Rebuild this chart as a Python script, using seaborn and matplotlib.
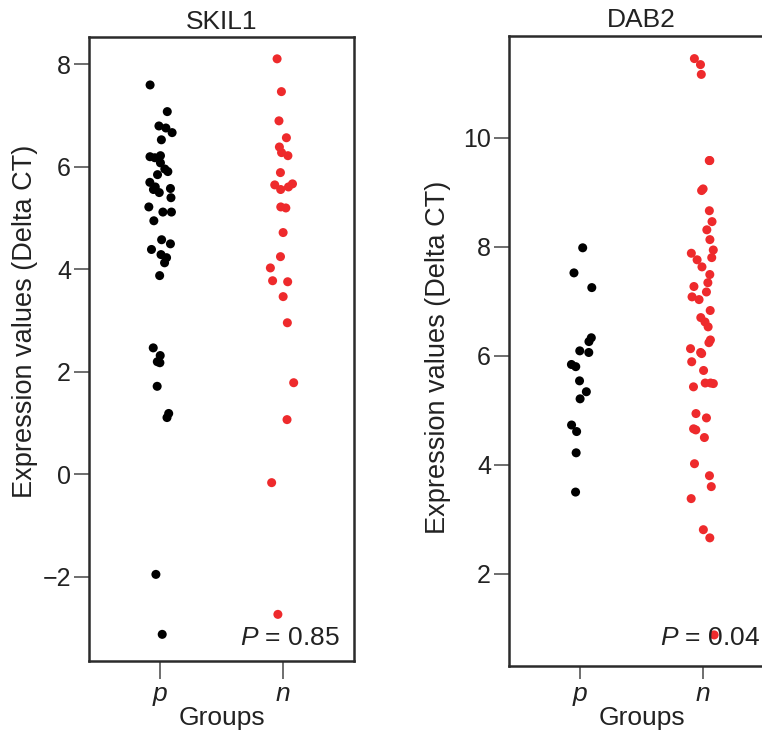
import numpy as np
import pandas as pd
import matplotlib
matplotlib.use("Agg")
import matplotlib.pyplot as plt
import seaborn as sns

# values (Delta CT)
groups = ["p", "n"]
skil1_p = [7.60, 7.08, 6.80, 6.76, 6.67, 6.53, 6.22, 6.20, 6.18, 6.08, 5.96, 5.91, 5.85,
           5.70, 5.61, 5.58, 5.56, 5.50, 5.40, 5.22, 5.12, 5.12, 4.95, 4.58, 4.50, 4.39,
           4.29, 4.23, 4.13, 3.88, 2.47, 2.32, 2.20, 2.18, 1.72, 1.19, 1.11, -1.95, -3.12]
skil1_n = [8.11, 7.47, 6.90, 6.57, 6.39, 6.28, 6.22, 5.89, 5.67, 5.65, 5.61, 5.56, 5.22,
           5.20, 4.72, 4.25, 4.03, 3.78, 3.76, 3.47, 2.96, 1.79, 1.07, -0.16, -2.73]
dab2_p = [7.98, 7.52, 7.25, 6.33, 6.26, 6.09, 6.06, 5.84, 5.80, 5.54, 5.34, 5.21, 4.73,
          4.61, 4.22, 3.50]
dab2_n = [11.45, 11.34, 11.16, 9.58, 9.58, 9.06, 9.03, 8.66, 8.46, 8.31, 8.13, 7.94, 7.88,
          7.80, 7.76, 7.63, 7.49, 7.34, 7.27, 7.17, 7.08, 7.03, 6.83, 6.70, 6.62, 6.53,
          6.29, 6.24, 6.13, 6.06, 6.04, 5.89, 5.73, 5.50, 5.50, 5.49, 5.43, 4.94, 4.86,
          4.66, 4.64, 4.50, 4.02, 3.80, 3.60, 3.38, 2.81, 2.66, 0.88]
genes = ["SKIL1", "DAB2"]
p_values = ["0.85", "0.04"]
yticks = {"SKIL1": [-2, 0, 2, 4, 6, 8], "DAB2": [2, 4, 6, 8, 10]}
ylims = {"SKIL1": (-3.64, 8.53), "DAB2": (0.31, 11.87)}

RED = "#ee2a2c"
SPINE = "#2b2b2b"

def make_frame(pos, neg):
    return pd.DataFrame({"Groups": ["p"] * len(pos) + ["n"] * len(neg),
                         "value": list(pos) + list(neg)})

frames = {"SKIL1": make_frame(skil1_p, skil1_n), "DAB2": make_frame(dab2_p, dab2_n)}

sns.set_style("white")
plt.rcParams["font.family"] = ["Liberation Sans", "DejaVu Sans"]
plt.rcParams["mathtext.fontset"] = "custom"
plt.rcParams["mathtext.rm"] = "Liberation Sans"
plt.rcParams["mathtext.it"] = "Liberation Sans:italic"

fig = plt.figure(figsize=(7.62, 7.33), dpi=100)
ax_pos = {"SKIL1": [89 / 762, 72 / 733, 265 / 762, 623.7 / 733],
          "DAB2": [509 / 762, 67 / 733, 265 / 762, 630.3 / 733]}
pv_y = {"SKIL1": 0.025, "DAB2": 0.034}
xtick_len = {"SKIL1": 13, "DAB2": 9.5}
ylab_pad = {"SKIL1": 3, "DAB2": 9}
ylab_y = {"SKIL1": 0.545, "DAB2": 0.49}

np.random.seed(7)
for gene, pv in zip(genes, p_values):
    ax = fig.add_axes(ax_pos[gene])
    sns.stripplot(data=frames[gene], x="Groups", y="value", hue="Groups", order=groups,
                  palette={"p": "black", "n": RED}, jitter=0.1, size=6.5,
                  linewidth=0, legend=False, ax=ax, clip_on=False)
    ax.set_xlim(-0.585, 1.585)
    ax.set_ylim(*ylims[gene])
    ax.set_yticks(yticks[gene])
    ax.set_title(gene, fontsize=19, pad=6)
    ax.set_xlabel("Groups", fontsize=19, labelpad=0)
    ax.set_ylabel("Expression values (Delta CT)", fontsize=19.5, labelpad=ylab_pad[gene])
    ax.yaxis.label.set_y(ylab_y[gene])
    ax.tick_params(axis="y", direction="out", length=11, width=1.2, color="#555555",
                   labelsize=18, pad=2, left=True, labelcolor="#222222")
    ax.tick_params(axis="x", direction="out", length=xtick_len[gene], width=1.2,
                   color="#555555", labelsize=19, pad=2, bottom=True, labelcolor="#222222")
    for lbl in ax.get_xticklabels():
        lbl.set_style("italic")
    for s in ax.spines.values():
        s.set_visible(True)
        s.set_color(SPINE)
        s.set_linewidth(1.8)
    ax.title.set_color("#222222")
    ax.xaxis.label.set_color("#222222")
    ax.yaxis.label.set_color("#222222")
    ax.text(0.947, pv_y[gene], "$P$ = " + pv, transform=ax.transAxes,
            ha="right", va="baseline", fontsize=19, color="#222222")

fig.savefig("out.png", dpi=100)
